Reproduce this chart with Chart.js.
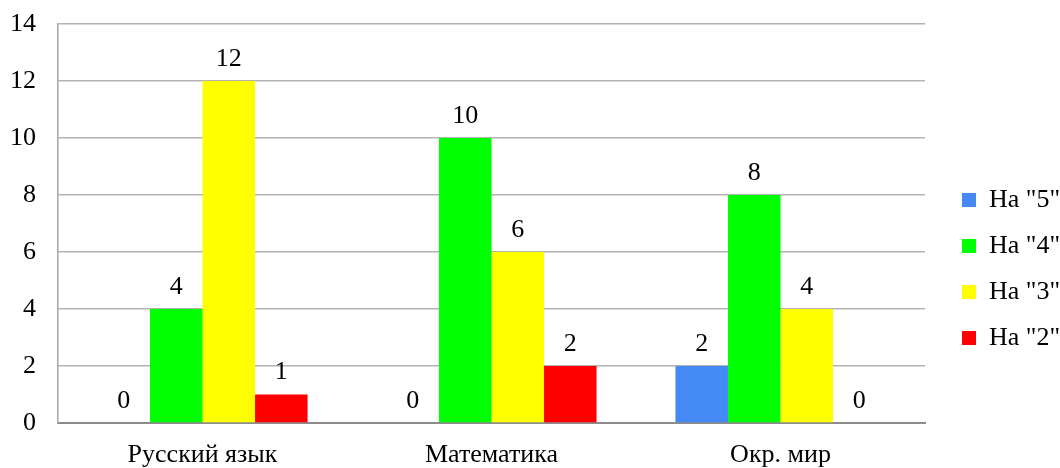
<!DOCTYPE html>
<html>
<head>
<meta charset="utf-8">
<script src="https://cdn.jsdelivr.net/npm/chart.js@4/dist/chart.umd.min.js"></script>
<style>
html,body{margin:0;padding:0;background:#fff;}
#c{display:block;}
</style>
</head>
<body>
<canvas id="c" width="1060" height="468"></canvas>
<script>
const categories = ['Русский язык', 'Математика', 'Окр. мир'];
const seriesNames = ['На "5"', 'На "4"', 'На "3"', 'На "2"'];
const grade5 = [0, 0, 2];
const grade4 = [4, 10, 8];
const grade3 = [12, 6, 4];
const grade2 = [1, 2, 0];
const seriesColors = ['#4589f5', '#00ff00', '#ffff00', '#ff0000'];
const yTicks = [0, 2, 4, 6, 8, 10, 12, 14];

const FONT = '"Liberation Serif", "Times New Roman", serif';
const FS = 26;

const valueLabels = {
  id: 'valueLabels',
  afterDatasetsDraw(chart) {
    const ctx = chart.ctx;
    ctx.save();
    ctx.font = FS + 'px ' + FONT;
    ctx.fillStyle = '#000';
    ctx.textAlign = 'center';
    ctx.textBaseline = 'bottom';
    chart.data.datasets.forEach((ds, i) => {
      const meta = chart.getDatasetMeta(i);
      meta.data.forEach((bar, j) => {
        ctx.fillText(String(ds.data[j]), bar.x, bar.y - 9);
      });
    });
    ctx.restore();
  }
};

const legendPlace = {
  id: 'legendPlace',
  afterInit(chart) {
    const lg = chart.legend;
    if (!lg) return;
    const orig = lg.fit.bind(lg);
    lg.fit = function () { orig(); this.width = 135; };
  },
  afterLayout(chart) {
    const lg = chart.legend;
    if (!lg) return;
    lg.left += 17; lg.right += 17;
    lg.top += 23; lg.bottom += 23;
  }
};

new Chart(document.getElementById('c'), {
  type: 'bar',
  data: {
    labels: categories,
    datasets: [
      { label: seriesNames[0], data: grade5, backgroundColor: seriesColors[0] },
      { label: seriesNames[1], data: grade4, backgroundColor: seriesColors[1] },
      { label: seriesNames[2], data: grade3, backgroundColor: seriesColors[2] },
      { label: seriesNames[3], data: grade2, backgroundColor: seriesColors[3] }
    ]
  },
  options: {
    responsive: false,
    animation: false,
    devicePixelRatio: 1,
    layout: { padding: { top: 24, left: 0, right: 0, bottom: 0 } },
    datasets: { bar: { categoryPercentage: 0.727, barPercentage: 1, borderWidth: 0 } },
    plugins: {
      tooltip: { enabled: false },
      legend: {
        position: 'right',
        align: 'center',
        labels: {
          boxWidth: 14, boxHeight: 14, padding: 20,
          color: '#000',
          font: { family: FONT, size: FS }
        }
      }
    },
    scales: {
      x: {
        grid: { display: false, drawTicks: false },
        border: { display: true, color: '#8c8c8c', width: 2 },
        ticks: { color: '#000', font: { family: FONT, size: FS }, padding: 17, maxRotation: 0 },
        afterFit(s) { s.height = 45; s.paddingLeft = 0; s.paddingRight = 0; }
      },
      y: {
        min: 0, max: 14,
        afterBuildTicks(s) { s.ticks = yTicks.map(v => ({ value: v })); },
        grid: { color: '#b3b3b3', lineWidth: 1.5, drawTicks: false },
        border: { display: true, color: '#a6a6a6', width: 1.5 },
        ticks: { color: '#000', font: { family: FONT, size: FS }, padding: 22 },
        afterFit(s) { s.width = 58; s.paddingTop = 0; s.paddingBottom = 0; }
      }
    }
  },
  plugins: [valueLabels, legendPlace]
});
</script>
</body>
</html>
